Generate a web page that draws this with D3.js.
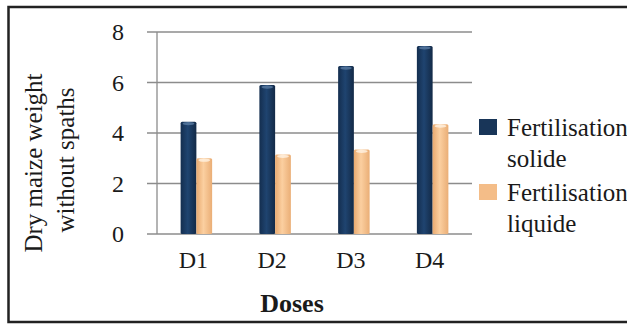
<!DOCTYPE html>
<html>
<head>
<meta charset="utf-8">
<script src="https://cdn.jsdelivr.net/npm/d3@7"></script>
<style>
  body { margin: 0; background: #fff; }
  text { font-family: "Liberation Serif", "Times New Roman", serif; fill: #1a1a1a; }
</style>
</head>
<body>
<div id="chart"></div>
<script>
// data
const doses = ["D1", "D2", "D3", "D4"];
const series = ["Fertilisation solide", "Fertilisation liquide"];
const solide = [4.45, 5.9, 6.65, 7.45];
const liquide = [3.0, 3.15, 3.35, 4.35];
const yTicks = [0, 2, 4, 6, 8];

const W = 627, H = 324;
const margin = {top: 32, left: 157};
const width = 472 - margin.left, height = 234 - margin.top;

const svg = d3.select("#chart").append("svg")
    .attr("width", W).attr("height", H);

// outer frame (right edge falls outside the picture)
svg.append("rect")
    .attr("x", 8.5).attr("y", 7).attr("width", 640).attr("height", 315)
    .attr("fill", "none").attr("stroke", "#222").attr("stroke-width", 2.5);

const defs = svg.append("defs");
function grad(id, stops) {
  const gr = defs.append("linearGradient").attr("id", id)
      .attr("x1", "0%").attr("x2", "100%").attr("y1", "0%").attr("y2", "0%");
  stops.forEach(s => gr.append("stop").attr("offset", s[0]).attr("stop-color", s[1]));
}
grad("gDark", [["0%", "#142e4f"], ["45%", "#1f4470"], ["100%", "#132a47"]]);
grad("gOrange", [["0%", "#e9aa70"], ["45%", "#fbcfa0"], ["100%", "#eaae76"]]);
const colors = ["url(#gDark)", "url(#gOrange)"];
const capColors = ["#5a7ca3", "#fff3e4"];
const legendColors = ["#183558", "#f4bd88"];

const g = svg.append("g").attr("transform", `translate(${margin.left},${margin.top})`);

const x = d3.scaleBand().domain(doses).range([0, width]).paddingInner(0.6).paddingOuter(0.3);
const x1 = d3.scaleBand().domain(series).range([0, x.bandwidth()]);
const y = d3.scaleLinear().domain([0, 8]).range([height, 0]);

// grid lines
g.append("g")
  .selectAll("line")
  .data(yTicks)
  .join("line")
    .attr("x1", -10).attr("x2", width)
    .attr("y1", d => y(d)).attr("y2", d => y(d))
    .attr("stroke", "#8c8c8c").attr("stroke-width", 1.3);

// y axis line
g.append("line")
    .attr("x1", 0).attr("x2", 0).attr("y1", 0).attr("y2", height)
    .attr("stroke", "#8c8c8c").attr("stroke-width", 1.3);

// y tick labels
g.append("g")
  .selectAll("text")
  .data(yTicks)
  .join("text")
    .attr("x", -39).attr("y", d => y(d)).attr("dy", "0.35em")
    .attr("text-anchor", "middle")
    .style("font-size", "24px")
    .text(d => d);

// bars
const rows = doses.map((d, i) => ({dose: d, values: [solide[i], liquide[i]]}));
const groups = g.append("g")
  .selectAll("g")
  .data(rows)
  .join("g")
    .attr("transform", d => `translate(${x(d.dose)},0)`);

const cells = groups.selectAll("g")
  .data(d => d.values.map((v, j) => ({key: series[j], value: v, j: j})))
  .join("g");

cells.append("rect")
    .attr("x", d => x1(d.key))
    .attr("y", d => y(d.value))
    .attr("width", x1.bandwidth())
    .attr("height", d => height - y(d.value))
    .attr("rx", 1.5)
    .attr("fill", d => colors[d.j]);

// light cap on top of each bar
cells.append("ellipse")
    .attr("cx", d => x1(d.key) + x1.bandwidth() / 2)
    .attr("cy", d => y(d.value) + 2)
    .attr("rx", x1.bandwidth() / 2 - 2)
    .attr("ry", 1.6)
    .attr("fill", d => capColors[d.j])
    .attr("opacity", 0.8);

// x labels
g.append("g")
  .selectAll("text")
  .data(doses)
  .join("text")
    .attr("x", d => x(d) + x.bandwidth() / 2 - 3)
    .attr("y", height + 34)
    .attr("text-anchor", "middle")
    .style("font-size", "24px")
    .text(d => d);

// x title
svg.append("text")
    .attr("x", 292).attr("y", 312)
    .attr("text-anchor", "middle")
    .style("font-size", "26px").style("font-weight", "bold")
    .text("Doses");

// y title
const yt = svg.append("text")
    .attr("transform", "translate(42,163) rotate(-90)")
    .attr("text-anchor", "middle")
    .style("font-size", "25px");
yt.append("tspan").attr("x", 0).attr("dy", 0).text("Dry maize weight");
yt.append("tspan").attr("x", 0).attr("dy", 32).attr("dx", 3).text("without  spaths");

// legend
const legendLines = [["Fertilisation", "solide"], ["Fertilisation", "liquide"]];
const leg = svg.append("g")
  .selectAll("g")
  .data(series)
  .join("g")
    .attr("transform", (d, i) => `translate(479,${119 + i * 65})`);
leg.append("rect")
    .attr("width", 18).attr("height", 16)
    .attr("fill", (d, i) => legendColors[i]);
leg.append("text")
    .style("font-size", "25px")
    .selectAll("tspan")
    .data((d, i) => legendLines[i])
    .join("tspan")
      .attr("x", 28)
      .attr("y", (d, k) => k === 0 ? 17 : 48)
      .text(d => d);
</script>
</body>
</html>
